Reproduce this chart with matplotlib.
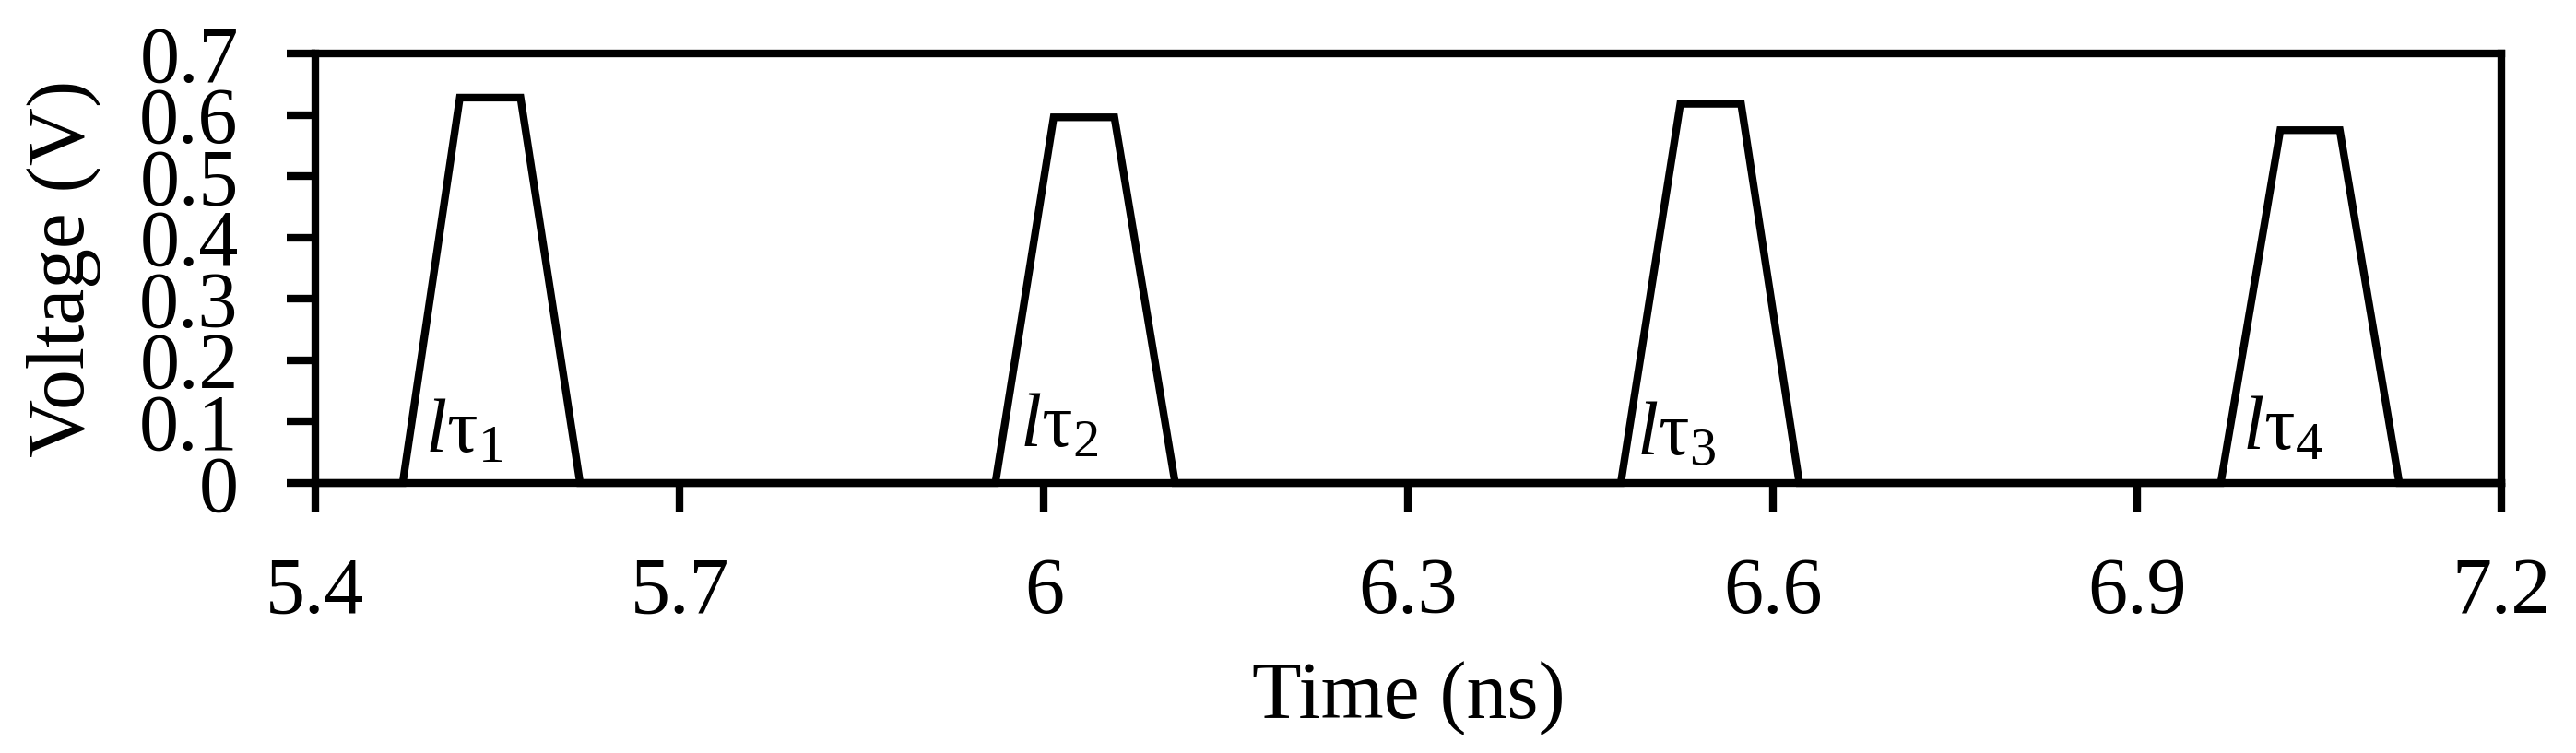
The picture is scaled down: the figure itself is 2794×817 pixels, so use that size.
import matplotlib
matplotlib.use("Agg")
import matplotlib.pyplot as plt

# pulse train (corners of each trapezoid)
time_ns = [5.40, 5.472, 5.519, 5.569, 5.618,
           5.960, 6.008, 6.058, 6.108,
           6.475, 6.524, 6.574, 6.622,
           6.969, 7.018, 7.067, 7.116, 7.20]
voltage = [0.0, 0.0, 0.628, 0.628, 0.0,
           0.0, 0.596, 0.596, 0.0,
           0.0, 0.618, 0.618, 0.0,
           0.0, 0.575, 0.575, 0.0, 0.0]

# pulse width labels
label_x = [5.490, 5.980, 6.488, 6.987]
label_y = [0.051, 0.059, 0.047, 0.056]
label_idx = ["1", "2", "3", "4"]

x_ticks = [5.4, 5.7, 6.0, 6.3, 6.6, 6.9, 7.2]
x_ticklabels = ["5.4", "5.7", "6", "6.3", "6.6", "6.9", "7.2"]
y_ticks = [0, 0.1, 0.2, 0.3, 0.4, 0.5, 0.6, 0.7]
y_ticklabels = ["0", "0.1", "0.2", "0.3", "0.4", "0.5", "0.6", "0.7"]

plt.rcParams["font.family"] = ["Liberation Serif", "DejaVu Serif"]
plt.rcParams["mathtext.fontset"] = "custom"
plt.rcParams["mathtext.rm"] = "Liberation Serif"
plt.rcParams["mathtext.it"] = "Liberation Serif:italic"

fig = plt.figure(figsize=(27.94, 8.17), dpi=100)
ax = fig.add_axes([0.1224, 0.3586, 0.971 - 0.1224, 0.929 - 0.3586])

ax.plot(time_ns, voltage, color="black", lw=6, solid_joinstyle="miter",
        clip_on=False, zorder=3)

for x, y, i in zip(label_x, label_y, label_idx):
    ax.text(x, y, r"$\mathit{l}\mathrm{\tau}_{%s}$" % i, fontsize=60,
            ha="left", va="baseline")

ax.set_xlim(5.4, 7.2)
ax.set_ylim(0, 0.7)
ax.set_xticks(x_ticks)
ax.set_xticklabels(x_ticklabels)
ax.set_yticks(y_ticks)
ax.set_yticklabels(y_ticklabels)

for s in ax.spines.values():
    s.set_linewidth(6)

ax.tick_params(axis="both", direction="out", length=22, width=6,
               labelsize=62)
ax.tick_params(axis="x", pad=36)
ax.tick_params(axis="y", pad=38)

ax.set_xlabel("Time (ns)", fontsize=63)
ax.xaxis.set_label_coords(0.5, -0.415)
ax.set_ylabel("Voltage (V)", fontsize=63)
ax.yaxis.set_label_coords(-0.098, 0.5)

fig.savefig("out.png", dpi=100)
